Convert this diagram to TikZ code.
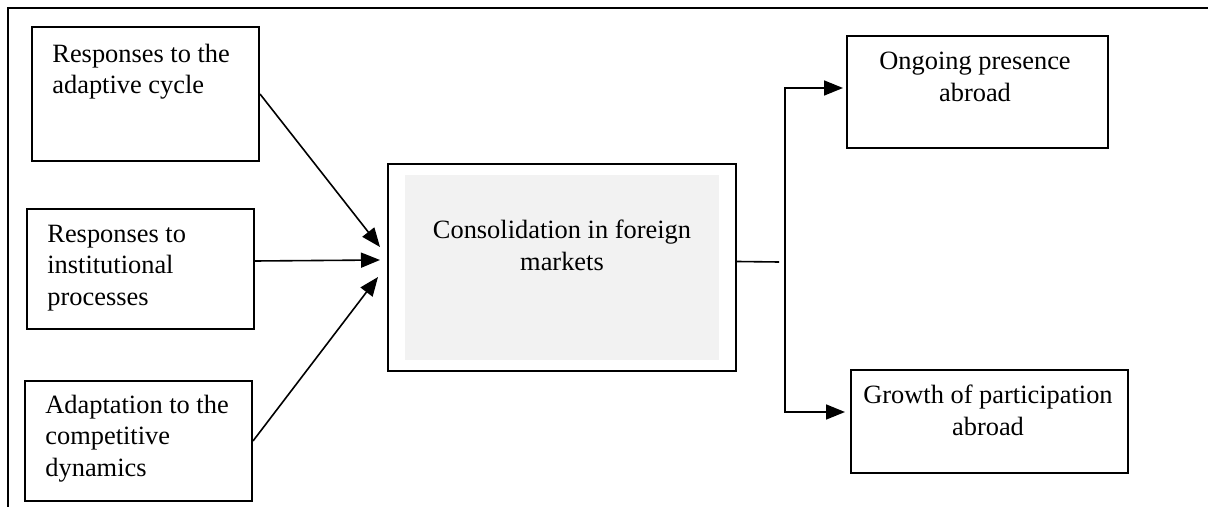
\documentclass[tikz,border=0pt]{standalone}
\usepackage{fontspec}
\setmainfont{Liberation Serif}
\usetikzlibrary{arrows.meta}
\definecolor{ConsClr}{RGB}{242,242,242}

\begin{document}
\begin{tikzpicture}[x=0.5pt,y=-0.5pt,
  box/.style={draw,line width=1pt,anchor=north west,inner sep=0pt},
  txt/.style={inner sep=0pt,font=\fontsize{13.2}{15.6}\selectfont},
  arr/.style={line width=0.8pt,-{Triangle[length=9.5pt,width=7.5pt]}}]
\useasboundingbox (0,0) rectangle (1208,507);

% frame (only top and left edges show)
\draw[line width=0.8pt] (8,507) -- (8,8) -- (1208,8);

% driving responses
\node[box,minimum width=113.5pt,minimum height=67pt] (adapt) at (31,26) {};
\node[txt,anchor=north west,align=left] (adapt-txt) at (52,44) {Responses to the\\adaptive cycle};

\node[box,minimum width=113.5pt,minimum height=60pt] (inst) at (26,208) {};
\node[txt,anchor=north west,align=left] (inst-txt) at (47,225) {Responses to\\institutional\\processes};

\node[box,minimum width=113.5pt,minimum height=60pt] (comp) at (24,380) {};
\node[txt,anchor=north west,align=left] (comp-txt) at (45,395) {Adaptation to the\\competitive\\dynamics};

% consolidation
\node[box,minimum width=174pt,minimum height=103.5pt] (cons) at (387,163) {};
\node[anchor=north west,inner sep=0pt,fill=ConsClr,minimum width=157pt,minimum height=92.5pt] (cons-in) at (405,175) {};
\node[txt,anchor=north,align=center] (cons-txt) at (562,220) {Consolidation in foreign\\markets};

% outcomes
\node[box,minimum width=130.5pt,minimum height=56pt] (pres) at (846,35) {};
\node[txt,anchor=north,align=center] (pres-txt) at (975,52) {Ongoing presence\\abroad};

\node[box,minimum width=138.5pt,minimum height=51.5pt] (grow) at (850,369) {};
\node[txt,anchor=north,align=center] (grow-txt) at (988,385) {Growth of participation\\abroad};

% connectors
\coordinate (adapt-tip) at (380,247);
\coordinate (inst-tip) at (380,260);
\coordinate (comp-tip) at (378,277);
\draw[arr] (adapt.east) -- (adapt-tip);
\draw[arr] ([yshift=4pt]inst.east) -- (inst-tip);
\draw[arr] (comp.east) -- (comp-tip);

\coordinate (cons-end) at (779,262);
\coordinate (split) at (785,262);
\coordinate (pres-tip) at (843,88);
\coordinate (grow-tip) at (845,412);
\draw[line width=0.8pt] ([yshift=3pt]cons.east) -- (cons-end);
\draw[arr] (split) |- (pres-tip);
\draw[arr] (split) |- (grow-tip);

\end{tikzpicture}
\end{document}
